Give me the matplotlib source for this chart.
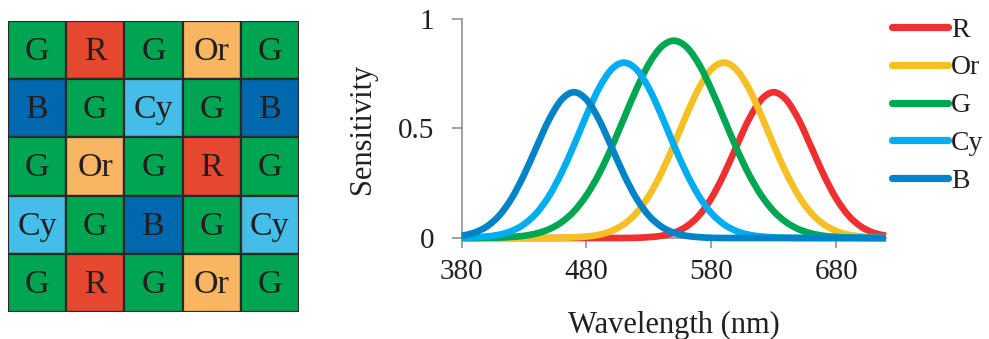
import matplotlib
matplotlib.use("Agg")
import matplotlib.pyplot as plt
from matplotlib.patches import Rectangle, PathPatch
from matplotlib.path import Path
from matplotlib.lines import Line2D

plt.rcParams['font.family'] = ['Liberation Serif', 'DejaVu Serif']

# ---------------- data ----------------
wavelength = [380, 390, 400, 410, 420, 430, 440, 450, 460, 470, 480, 490, 500,
              510, 520, 530, 540, 550, 560, 570, 580, 590, 600, 610, 620, 630,
              640, 650, 660, 670, 680, 690, 700, 710, 720]

sens_R = [0, 0, 0, 0, 0, 0, 0, 0, 0, 0, 0, 0, 0, 0,
          0.001, 0.004, 0.010, 0.024, 0.052, 0.102, 0.181, 0.289, 0.416, 0.540,
          0.631, 0.665, 0.631, 0.540, 0.416, 0.289, 0.181, 0.102, 0.052, 0.024,
          0.010]
sens_Or = [0, 0, 0, 0, 0, 0, 0, 0,
           0.001, 0.003, 0.007, 0.015, 0.032, 0.063, 0.114, 0.192, 0.297, 0.424,
           0.560, 0.683, 0.769, 0.800, 0.769, 0.683, 0.560, 0.424, 0.297, 0.192,
           0.114, 0.063, 0.032, 0.015, 0.007, 0.003, 0.001]
sens_G = [0, 0, 0.001, 0.002, 0.005, 0.010, 0.021, 0.040, 0.072, 0.122, 0.195,
          0.292, 0.412, 0.546, 0.679, 0.794, 0.872, 0.900, 0.872, 0.794, 0.679,
          0.546, 0.412, 0.292, 0.195, 0.122, 0.072, 0.040, 0.021, 0.010, 0.005,
          0.002, 0.001, 0, 0]
sens_Cy = [0.001, 0.003, 0.007, 0.015, 0.032, 0.063, 0.114, 0.192, 0.297, 0.424,
           0.560, 0.683, 0.769, 0.800, 0.769, 0.683, 0.560, 0.424, 0.297, 0.192,
           0.114, 0.063, 0.032, 0.015, 0.007, 0.003, 0.001,
           0, 0, 0, 0, 0, 0, 0, 0]
sens_B = [0.010, 0.024, 0.052, 0.102, 0.181, 0.289, 0.416, 0.540, 0.631, 0.665,
          0.631, 0.540, 0.416, 0.289, 0.181, 0.102, 0.052, 0.024, 0.010, 0.004,
          0.001, 0, 0, 0, 0, 0, 0, 0, 0, 0, 0, 0, 0, 0, 0]

series_names = ["R", "Or", "G", "Cy", "B"]
series_values = [sens_R, sens_Or, sens_G, sens_Cy, sens_B]
line_colors = ["#EE3130", "#F6C024", "#00A651", "#00AEEF", "#0084C7"]

x_ticks = [380, 480, 580, 680]
y_ticks = [0, 0.5, 1]
y_tick_labels = ["0", "0.5", "1"]

filter_grid = [["G", "R", "G", "Or", "G"],
               ["B", "G", "Cy", "G", "B"],
               ["G", "Or", "G", "R", "G"],
               ["Cy", "G", "B", "G", "Cy"],
               ["G", "R", "G", "Or", "G"]]
cell_colors = {"G": "#00A551", "R": "#E6472F", "Or": "#F8B562",
               "Cy": "#44BEE8", "B": "#0068AF"}

text_color = "#231F20"
axis_color = "#8C9196"


def smooth_path(xs, ys):
    """Smoothed (Catmull-Rom style) Bezier path through the data points."""
    pts = list(zip(xs, ys))
    n = len(pts)
    verts = [pts[0]]
    codes = [Path.MOVETO]
    for i in range(n - 1):
        p0 = pts[i - 1] if i > 0 else pts[i]
        p1 = pts[i]
        p2 = pts[i + 1]
        p3 = pts[i + 2] if i + 2 < n else pts[i + 1]
        c1 = (p1[0] + (p2[0] - p0[0]) / 6.0, p1[1] + (p2[1] - p0[1]) / 6.0)
        c2 = (p2[0] - (p3[0] - p1[0]) / 6.0, p2[1] - (p3[1] - p1[1]) / 6.0)
        verts += [c1, c2, p2]
        codes += [Path.CURVE4, Path.CURVE4, Path.CURVE4]
    return Path(verts, codes)


# ---------------- figure ----------------
W, H = 989, 339
fig = plt.figure(figsize=(W / 100, H / 100), dpi=100)

# Filter mosaic
axg = fig.add_axes([8 / W, (H - 312) / H, 291 / W, 291 / H])
n = len(filter_grid)
for r, row in enumerate(filter_grid):
    for c, lab in enumerate(row):
        axg.add_patch(Rectangle((c, r), 1, 1, facecolor=cell_colors[lab],
                                edgecolor="#2A2A2A", linewidth=1.6))
        axg.text(c + 0.5, r + 0.53, lab, ha="center", va="center",
                 fontsize=24.5, color=text_color)
axg.set_xlim(0, n)
axg.set_ylim(n, 0)
axg.axis("off")

# Sensitivity chart
x0, x1 = 461.7, 886.0
y0, y1 = 238.0, 18.8
ax = fig.add_axes([x0 / W, (H - y0) / H, (x1 - x0) / W, (y0 - y1) / H])
for k, (name, vals, col) in enumerate(zip(series_names, series_values, line_colors)):
    patch = PathPatch(smooth_path(wavelength, vals), facecolor="none",
                      edgecolor=col, lw=4.8, capstyle="butt",
                      joinstyle="round", clip_on=False,
                      transform=ax.transData, label=name, zorder=3 + 0.1 * k)
    ax.add_patch(patch)

ax.set_xlim(380, 720)
ax.set_ylim(0, 1)
ax.set_xticks(x_ticks)
ax.set_xticklabels([str(v) for v in x_ticks])
ax.set_yticks(y_ticks)
ax.set_yticklabels(y_tick_labels)
for s in ["top", "right"]:
    ax.spines[s].set_visible(False)
for s in ["left", "bottom"]:
    ax.spines[s].set_color(axis_color)
    ax.spines[s].set_linewidth(1.2)
ax.tick_params(axis="both", colors=axis_color, labelcolor=text_color,
               labelsize=21, length=7, width=1.2, direction="out")
ax.tick_params(axis="y", pad=13)
ax.tick_params(axis="x", pad=8)
ax.set_xlabel("Wavelength (nm)", fontsize=22, color=text_color, labelpad=19)
ax.set_ylabel("Sensitivity", fontsize=22, color=text_color, labelpad=15)

# Legend (drawn in figure pixels)
leg_x0, leg_x1 = 891.7, 948.3
leg_rows = [27.3, 65.0, 102.7, 140.4, 178.0]
for name, col, yy in zip(series_names, line_colors, leg_rows):
    fy = (H - yy) / H
    fig.add_artist(Line2D([leg_x0 / W, leg_x1 / W], [fy, fy],
                          transform=fig.transFigure, color=col, lw=5.2,
                          solid_capstyle="round"))
    fig.text(951 / W, fy, name, ha="left", va="center_baseline",
             fontsize=20, color=text_color)

fig.savefig("out.png", dpi=100)
